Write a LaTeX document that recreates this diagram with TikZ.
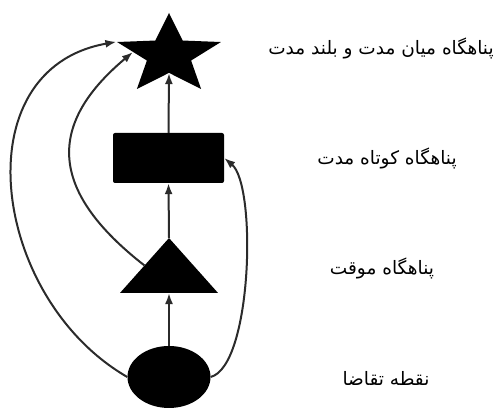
\documentclass[tikz,border=0pt]{standalone}
\usepackage{fontspec}
\newfontfamily\farsi[Script=Arabic]{DejaVu Sans}
\TeXXeTstate=1
\usepackage{tikz}
\usetikzlibrary{arrows.meta,shapes.geometric,positioning}
\definecolor{darkline}{HTML}{2B2B2B}
\tikzset{
    solid shape/.style={fill=black, draw=none, inner sep=0pt},
    edge/.style={draw=darkline, line width=2pt, -{Latex[length=11pt,width=8pt]}},
    farsilabel/.style={font=\farsi\fontsize{18.5}{22}\selectfont, text=black}
}

\begin{document}
\begin{tikzpicture}[x=1pt, y=1pt]
    \useasboundingbox (0,0) rectangle (499,409);
    % Nodes
    \node[solid shape, star, star points=5, star point ratio=2.35, minimum size=84pt, xscale=1.3] (longterm) at (169,354) {};
    \node[solid shape, rectangle, rounded corners=2pt, minimum width=111pt, minimum height=50pt] (shortterm) at (168.5,251) {};
    \node[solid shape, regular polygon, regular polygon sides=3, minimum size=113pt, yscale=0.647] (temporary) at (169,134.4) {};
    \node[solid shape, ellipse, minimum width=83pt, minimum height=62pt] (demand) at (169,32) {};

    % labels
    \node[farsilabel] (lbllong) at (381,361) {\beginR پناهگاه میان مدت و بلند مدت\endR};
    \node[farsilabel] (lblshort) at (387,251) {\beginR پناهگاه کوتاه مدت\endR};
    \node[farsilabel] (lbltemp) at (382,141) {\beginR پناهگاه موقت\endR};
    \node[farsilabel] (lbldemand) at (386,31) {\beginR نقطه تقاضا\endR};

    % edges
    \draw[edge] (demand.north) -- (temporary.side 2);
    \draw[edge] (temporary.corner 1) -- (shortterm.south);
    \draw[edge] (shortterm.north) -- (longterm.inner point 3);
    \draw[edge] (demand.west) to[out=150, in=190, looseness=1.2] (longterm.outer point 2);
    \draw[edge] (temporary.side 1) to[out=142, in=220, looseness=1.4] (longterm.174);
    \draw[edge] (demand.east) to[out=15, in=-40, looseness=0.5] (shortterm.east);
\end{tikzpicture}
\end{document}
